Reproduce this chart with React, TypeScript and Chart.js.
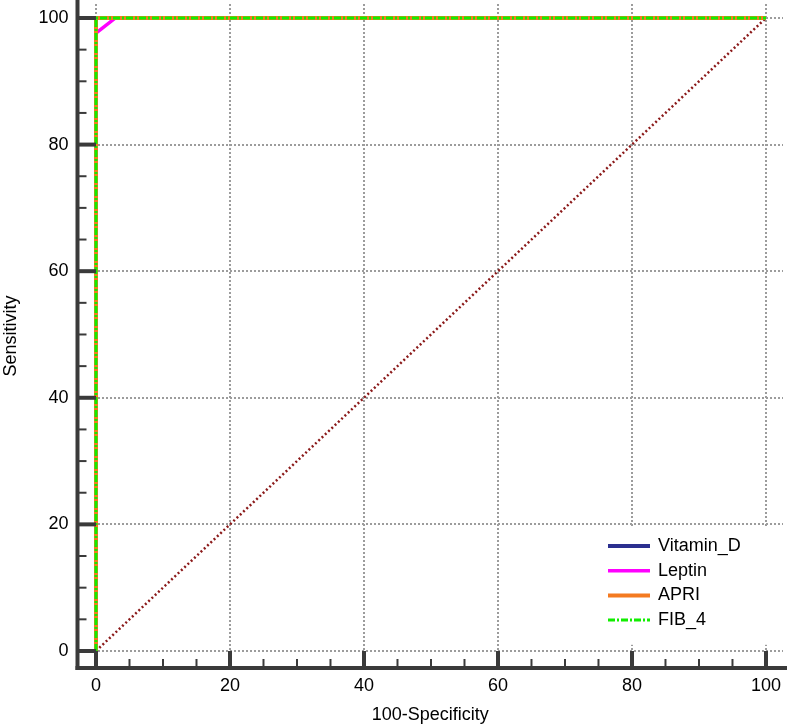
import React, { useEffect, useRef } from 'react';
import { Chart, registerables } from 'chart.js';

Chart.register(...registerables);

// ---- data ----
const seriesNames = ['Vitamin_D', 'Leptin', 'APRI', 'FIB_4'];
const vitaminDX = [0, 0, 100];
const vitaminDY = [0, 100, 100];
const leptinX = [0, 0, 2.9, 100];
const leptinY = [0, 97.6, 100, 100];
const apriX = [0, 0, 100];
const apriY = [0, 100, 100];
const fib4X = [0, 0, 100];
const fib4Y = [0, 100, 100];
const diagonalX = [0, 100];
const diagonalY = [0, 100];
const majorTicks = [0, 20, 40, 60, 80, 100];
const minorTicks = [5, 10, 15, 25, 30, 35, 45, 50, 55, 65, 70, 75, 85, 90, 95];
const xTitle = '100-Specificity';
const yTitle = 'Sensitivity';

const FONT = "'Liberation Sans', Arial, Helvetica, sans-serif";
const AXIS_COLOR = '#3a3a3a';
const FS = 18;

const pts = (xs: number[], ys: number[]) => xs.map((x, i) => ({ x, y: ys[i] }));

const axesPlugin = {
  id: 'medcalcAxes',
  afterDatasetsDraw(chart: any) {
    const { ctx, chartArea: a, scales } = chart;
    const x = scales.x;
    const y = scales.y;
    const x0 = x.getPixelForValue(0);
    const y0 = y.getPixelForValue(0);
    ctx.save();
    ctx.strokeStyle = AXIS_COLOR;
    ctx.lineCap = 'butt';
    ctx.setLineDash([]);
    ctx.lineWidth = 4;
    ctx.beginPath();
    ctx.moveTo(a.left - 2, a.bottom);
    ctx.lineTo(chart.width, a.bottom);
    ctx.stroke();
    ctx.beginPath();
    ctx.moveTo(a.left, a.bottom + 2);
    ctx.lineTo(a.left, 0);
    ctx.stroke();
    majorTicks.forEach((v) => {
      ctx.lineWidth = 4;
      const px = x.getPixelForValue(v);
      ctx.beginPath();
      ctx.moveTo(px, a.bottom);
      ctx.lineTo(px, y0);
      ctx.stroke();
      const py = y.getPixelForValue(v);
      ctx.beginPath();
      ctx.moveTo(a.left, py);
      ctx.lineTo(x0, py);
      ctx.stroke();
    });
    minorTicks.forEach((v) => {
      ctx.lineWidth = 2;
      const px = x.getPixelForValue(v);
      ctx.beginPath();
      ctx.moveTo(px, a.bottom);
      ctx.lineTo(px, a.bottom - 9);
      ctx.stroke();
      const py = y.getPixelForValue(v);
      ctx.beginPath();
      ctx.moveTo(a.left, py);
      ctx.lineTo(a.left + 9, py);
      ctx.stroke();
    });
    ctx.restore();
  },
};

const legendPlugin = {
  id: 'insideLegend',
  afterDraw(chart: any) {
    const { ctx, chartArea: a } = chart;
    const items = seriesNames
      .map((n) => chart.data.datasets.find((d: any) => d.label === n))
      .filter(Boolean);
    const rowH = 24.7;
    const firstY = 546;
    const lineX1 = a.right - 175;
    const lineX2 = lineX1 + 42;
    ctx.save();
    ctx.fillStyle = '#ffffff';
    ctx.fillRect(lineX1 - 18, firstY - 18, 190, rowH * items.length + 18);
    ctx.font = `${FS}px ${FONT}`;
    ctx.textBaseline = 'middle';
    ctx.textAlign = 'left';
    items.forEach((d: any, i: number) => {
      const yy = firstY + i * rowH;
      ctx.strokeStyle = d.borderColor;
      ctx.lineWidth = Math.min(d.borderWidth, 4);
      ctx.setLineDash(d.borderDash || []);
      ctx.beginPath();
      ctx.moveTo(lineX1, yy);
      ctx.lineTo(lineX2, yy);
      ctx.stroke();
      ctx.setLineDash([]);
      ctx.fillStyle = '#000';
      ctx.fillText(d.label, lineX2 + 8, yy);
    });
    ctx.restore();
  },
};

export default function App() {
  const ref = useRef<HTMLCanvasElement | null>(null);
  useEffect(() => {
    document.body.style.margin = '0';
    const canvas = ref.current;
    if (!canvas) return;
    const setTicks = (scale: any) => {
      scale.ticks = majorTicks.map((v) => ({ value: v }));
    };
    const chart = new Chart(canvas, {
      type: 'scatter',
      data: {
        datasets: [
          {
            label: 'diagonal',
            data: pts(diagonalX, diagonalY),
            borderColor: '#8b1a1a',
            borderWidth: 2.5,
            borderDash: [2, 2.5],
            showLine: true,
            pointRadius: 0,
            order: 5,
          },
          {
            label: seriesNames[0],
            data: pts(vitaminDX, vitaminDY),
            borderColor: '#2b2f8f',
            borderWidth: 4,
            showLine: true,
            pointRadius: 0,
            order: 4,
          },
          {
            label: seriesNames[1],
            data: pts(leptinX, leptinY),
            borderColor: '#ff00ff',
            borderWidth: 3.5,
            showLine: true,
            pointRadius: 0,
            order: 3,
          },
          {
            label: seriesNames[2],
            data: pts(apriX, apriY),
            borderColor: '#f47a20',
            borderWidth: 4,
            showLine: true,
            pointRadius: 0,
            order: 2,
          },
          {
            label: seriesNames[3],
            data: pts(fib4X, fib4Y),
            borderColor: '#11ee00',
            borderWidth: 3,
            borderDash: [7, 2, 2, 2],
            showLine: true,
            pointRadius: 0,
            order: 1,
          },
        ],
      },
      options: {
        animation: false,
        responsive: false,
        layout: { autoPadding: false, padding: { top: 4, right: 4, left: 0, bottom: 0 } },
        plugins: { legend: { display: false }, tooltip: { enabled: false } },
        scales: {
          x: {
            type: 'linear',
            min: -2.76,
            max: 102.54,
            afterBuildTicks: setTicks,
            afterFit: (s: any) => {
              s.height = 58;
              s.paddingLeft = 0;
              s.paddingRight = 0;
            },
            grid: {
              color: '#9c9c9c',
              lineWidth: 2,
              drawTicks: false,
            },
            border: { display: false, dash: [2, 2] },
            ticks: {
              padding: 7,
              color: '#000',
              font: { size: FS, family: FONT },
              maxRotation: 0,
            },
            title: {
              display: true,
              text: xTitle,
              color: '#000',
              font: { size: FS, family: FONT },
              padding: { top: 0, bottom: 0 },
            },
          },
          y: {
            type: 'linear',
            min: -2.69,
            max: 102.21,
            afterBuildTicks: setTicks,
            afterFit: (s: any) => {
              s.width = 77.5;
              s.paddingTop = 0;
              s.paddingBottom = 0;
            },
            grid: {
              color: '#9c9c9c',
              lineWidth: 2,
              drawTicks: false,
            },
            border: { display: false, dash: [2, 2] },
            ticks: {
              padding: 9,
              color: '#000',
              font: { size: FS, family: FONT },
            },
            title: {
              display: true,
              text: yTitle,
              color: '#000',
              font: { size: FS, family: FONT },
              padding: { top: 0, bottom: 0 },
            },
          },
        },
      } as any,
      plugins: [axesPlugin, legendPlugin],
    });
    return () => chart.destroy();
  }, []);
  return (
    <div style={{ width: 787, height: 726 }}>
      <canvas ref={ref} width={787} height={726} />
    </div>
  );
}
